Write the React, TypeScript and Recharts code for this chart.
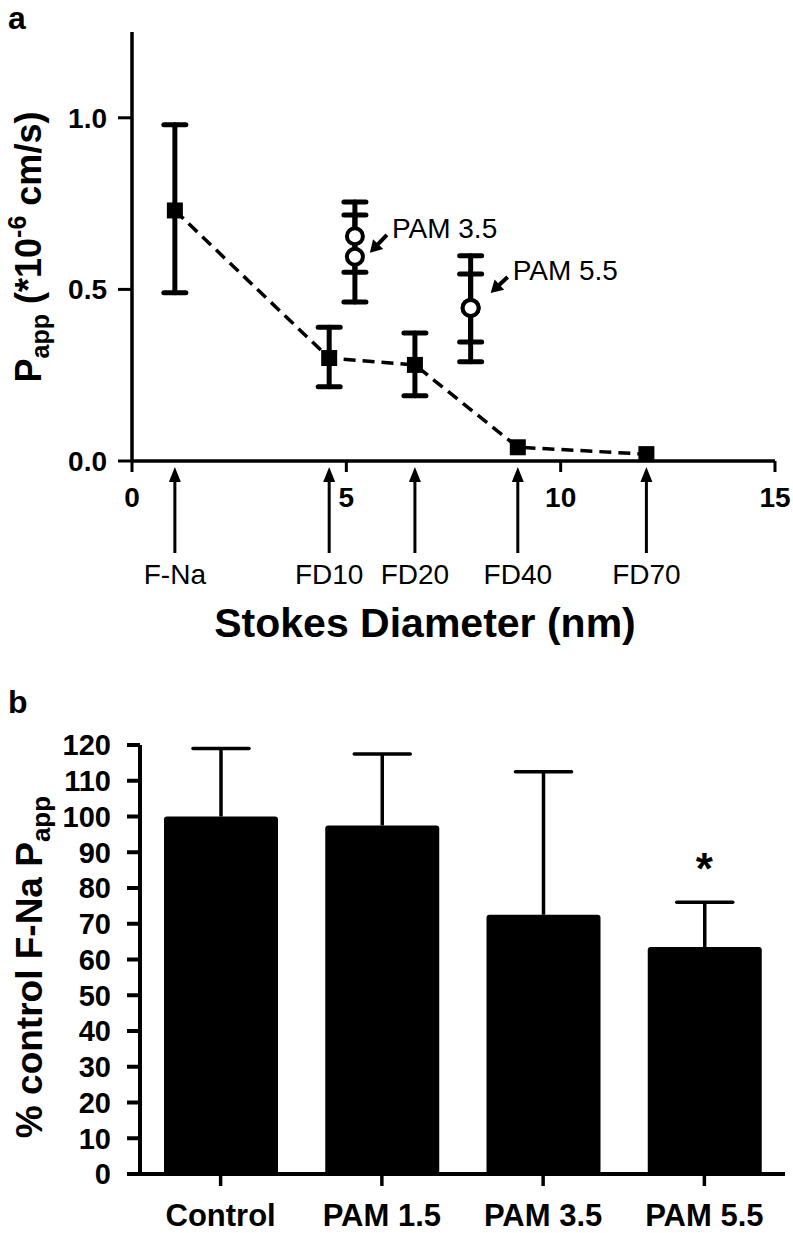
import React from "react";
import {
  ComposedChart,
  Scatter,
  XAxis,
  YAxis,
  ErrorBar,
  ReferenceDot,
  BarChart,
  Bar,
  Label,
} from "recharts";

const FONT = '"Liberation Sans", Arial, Helvetica, sans-serif';

// ---- panel a: Papp vs Stokes diameter ----
const dextranNames = ["F-Na", "FD10", "FD20", "FD40", "FD70"];
const dextranSize = [1.0, 4.6, 6.6, 9.0, 12.0];
const dextranPapp = [0.73, 0.3, 0.28, 0.04, 0.02];
const dextranLow = [0.49, 0.216, 0.19, null, null];
const dextranHigh = [0.98, 0.39, 0.373, null, null];

const pamNames = ["PAM 3.5", "PAM 5.5"];
const pamSize = [5.2, 7.9];
const pamPappA = [0.655, 0.446];
const pamLowA = [0.55, 0.347];
const pamHighA = [0.755, 0.545];
const pamPappB = [0.595, 0.446];
const pamLowB = [0.463, 0.289];
const pamHighB = [0.717, 0.598];

const stokesTicks = [0, 5, 10, 15];
const pappTicks = [0, 0.5, 1.0];

// ---- panel b: % of control ----
const groups = ["Control", "PAM 1.5", "PAM 3.5", "PAM 5.5"];
const pctMean = [100, 97.5, 72.5, 63.5];
const pctUpper = [119, 117.5, 112.5, 76];
const sigMark = ["", "", "", "*"];
const sigLevel = [null, null, null, 88];
const pctTicks = [0, 10, 20, 30, 40, 50, 60, 70, 80, 90, 100, 110, 120];

const dextranData = dextranSize.map((x, i) => ({
  x,
  y: dextranPapp[i],
  lo: dextranLow[i],
  hi: dextranHigh[i],
}));
const pamDataA = pamSize.map((x, i) => ({ x, y: pamPappA[i], lo: pamLowA[i], hi: pamHighA[i] }));
const pamDataB = pamSize.map((x, i) => ({ x, y: pamPappB[i], lo: pamLowB[i], hi: pamHighB[i] }));
const barData = groups.map((name, i) => ({ name, v: pctMean[i], up: pctUpper[i] }));

// scatter points hand the raw row over as .payload
const errKey = (p: any) => {
  const d = p && p.payload ? p.payload : p;
  return d.lo == null ? null : [d.y - d.lo, d.hi - d.y];
};

// offsets of the PAM callouts (pixels), per annotation
const calloutStyle = [
  { tail: [32, -22], tip: [15, -4], text: [37, -19] },
  { tail: [37, -31], tip: [20, -15], text: [42, -28] },
];

const Square = (p: any) => <rect x={p.cx - 8} y={p.cy - 8} width={16} height={16} fill="#000" />;
const Ring = (p: any) => (
  <circle cx={p.cx} cy={p.cy} r={8} fill="#fff" stroke="#000" strokeWidth={4} />
);

const arrowHead = (x1: number, y1: number, x2: number, y2: number, len: number, half: number) => {
  const dx = x2 - x1;
  const dy = y2 - y1;
  const l = Math.sqrt(dx * dx + dy * dy);
  const ux = dx / l;
  const uy = dy / l;
  const bx = x2 - ux * len;
  const by = y2 - uy * len;
  return `${x2},${y2} ${bx - uy * half},${by + ux * half} ${bx + uy * half},${by - ux * half}`;
};

const makeCallout = (i: number) => (p: any) => {
  const s = calloutStyle[i];
  const tx = p.cx + s.tail[0];
  const ty = p.cy + s.tail[1];
  const hx = p.cx + s.tip[0];
  const hy = p.cy + s.tip[1];
  const dx = hx - tx;
  const dy = hy - ty;
  const l = Math.sqrt(dx * dx + dy * dy);
  return (
    <g>
      <line
        x1={tx}
        y1={ty}
        x2={hx - (dx / l) * 8}
        y2={hy - (dy / l) * 8}
        stroke="#000"
        strokeWidth={4}
      />
      <polygon points={arrowHead(tx, ty, hx, hy, 12, 7)} fill="#000" />
      <text x={p.cx + s.text[0]} y={p.cy + s.text[1]} fontSize={28} fontFamily={FONT} fill="#000">
        {pamNames[i]}
      </text>
    </g>
  );
};

const StokesTick = (props: any) => {
  const { x, y, payload } = props;
  const v = payload.value;
  const idx = dextranSize.indexOf(v);
  if (idx < 0) {
    return (
      <g>
        <line x1={x} x2={x} y1={y} y2={y + 11} stroke="#000" strokeWidth={3} />
        <text x={x} y={y + 46} textAnchor="middle" fontSize={28} fontWeight="bold" fontFamily={FONT} fill="#000">
          {v}
        </text>
      </g>
    );
  }
  return (
    <g>
      <line x1={x} x2={x} y1={y + 16} y2={y + 92} stroke="#000" strokeWidth={3} />
      <polygon points={`${x},${y + 6} ${x - 6},${y + 21} ${x + 6},${y + 21}`} fill="#000" />
      <text x={x} y={y + 123} textAnchor="middle" fontSize={28} fontFamily={FONT} fill="#000">
        {dextranNames[idx]}
      </text>
    </g>
  );
};

const StokesTitle = () => (
  <text x={425} y={637} textAnchor="middle" fontSize={41} fontWeight="bold" fontFamily={FONT} fill="#000">
    Stokes Diameter (nm)
  </text>
);

const PappTitle = () => (
  <text
    x={41}
    y={247}
    transform="rotate(-90 41 247)"
    textAnchor="middle"
    fontSize={36}
    fontWeight="bold"
    fontFamily={FONT}
    fill="#000"
  >
    P
    <tspan fontSize={25} dy={8}>
      app
    </tspan>
    <tspan dy={-8}> (*10</tspan>
    <tspan fontSize={25} dy={-15}>
      -6
    </tspan>
    <tspan dy={15}> cm/s)</tspan>
  </text>
);

const PctTitle = () => (
  <text
    x={42}
    y={287}
    transform="rotate(-90 42 287)"
    textAnchor="middle"
    fontSize={37}
    fontWeight="bold"
    fontFamily={FONT}
    fill="#000"
  >
    % control F-Na P
    <tspan fontSize={26} dy={8}>
      app
    </tspan>
  </text>
);

// bar with its upper whisker, scaled from the bar's own pixel height
const BarWithWhisker = (p: any) => {
  const { x, y, width, height, payload } = p;
  const perUnit = height / payload.v;
  const top = y - (payload.up - payload.v) * perUnit;
  const cx = x + width / 2;
  return (
    <g>
      <rect x={x} y={y} width={width} height={height} rx={3} ry={3} fill="#000" />
      <line x1={cx} x2={cx} y1={y} y2={top} stroke="#000" strokeWidth={3.5} />
      <line x1={cx - 28} x2={cx + 28} y1={top} y2={top} stroke="#000" strokeWidth={3.5} strokeLinecap="round" />
    </g>
  );
};

const Star = (i: number) => (p: any) => (
  <text x={p.cx} y={p.cy + 25} textAnchor="middle" fontSize={44} fontWeight="bold" fontFamily={FONT} fill="#000">
    {sigMark[i]}
  </text>
);

const panelLabel: React.CSSProperties = {
  position: "absolute",
  left: 8,
  fontFamily: FONT,
  fontWeight: "bold",
  fontSize: 32,
  lineHeight: "normal",
  color: "#000",
};

export default function App() {
  return (
    <div style={{ position: "absolute", left: 0, top: 0, width: 793, height: 1233, background: "#fff" }}>
      <div style={{ ...panelLabel, top: 0 }}>a</div>
      <div style={{ ...panelLabel, top: 684 }}>b</div>

      <div style={{ position: "absolute", left: 0, top: 0 }}>
        <ComposedChart width={793} height={680} margin={{ top: 32, right: 18, left: 0, bottom: 0 }}>
          <XAxis
            type="number"
            dataKey="x"
            domain={[0, 15]}
            ticks={[...stokesTicks, ...dextranSize].sort((a, b) => a - b)}
            interval={0}
            height={219}
            tickSize={0}
            tickMargin={0}
            tickLine={false}
            axisLine={{ stroke: "#000", strokeWidth: 3.5 }}
            tick={<StokesTick />}
          >
            <Label content={<StokesTitle />} />
          </XAxis>
          <YAxis
            type="number"
            dataKey="y"
            domain={[0, 1.25]}
            ticks={pappTicks}
            width={132}
            tickSize={14}
            tickMargin={11}
            tickFormatter={(v: number) => v.toFixed(1)}
            tickLine={{ stroke: "#000", strokeWidth: 3 }}
            axisLine={{ stroke: "#000", strokeWidth: 3.5 }}
            tick={{ fill: "#000", fontSize: 28, fontWeight: "bold", fontFamily: FONT }}
          >
            <Label content={<PappTitle />} />
          </YAxis>
          <Scatter
            data={dextranData}
            shape={Square}
            line={{ stroke: "#000", strokeWidth: 3.5, strokeDasharray: "12 7" }}
            lineType="joint"
            isAnimationActive={false}
          >
            <ErrorBar
              dataKey={errKey}
              direction="y"
              width={11}
              stroke="#000"
              strokeWidth={5}
              strokeLinecap="round"
              isAnimationActive={false}
            />
          </Scatter>
          <Scatter data={pamDataA} shape={Ring} isAnimationActive={false}>
            <ErrorBar
              dataKey={errKey}
              direction="y"
              width={11}
              stroke="#000"
              strokeWidth={5}
              strokeLinecap="round"
              isAnimationActive={false}
            />
          </Scatter>
          <Scatter data={pamDataB} shape={Ring} isAnimationActive={false}>
            <ErrorBar
              dataKey={errKey}
              direction="y"
              width={11}
              stroke="#000"
              strokeWidth={5}
              strokeLinecap="round"
              isAnimationActive={false}
            />
          </Scatter>
          {pamSize.map((x, i) => (
            <ReferenceDot key={pamNames[i]} x={x} y={pamPappB[i]} r={0} shape={makeCallout(i)} />
          ))}
        </ComposedChart>
      </div>

      <div style={{ position: "absolute", left: 0, top: 680 }}>
        <BarChart width={793} height={553} data={barData} margin={{ top: 65, right: 8, left: 0, bottom: 0 }}>
          <XAxis
            dataKey="name"
            height={59}
            tickSize={12}
            tickMargin={18}
            interval={0}
            tickLine={{ stroke: "#000", strokeWidth: 3.5 }}
            axisLine={{ stroke: "#000", strokeWidth: 4 }}
            tick={{ fill: "#000", fontSize: 31, fontWeight: "bold", fontFamily: FONT }}
          />
          <YAxis
            domain={[0, 120]}
            ticks={pctTicks}
            interval={0}
            width={140}
            tickSize={13}
            tickMargin={16}
            tickLine={{ stroke: "#000", strokeWidth: 4 }}
            axisLine={{ stroke: "#000", strokeWidth: 4 }}
            tick={{ fill: "#000", fontSize: 29, fontWeight: "bold", fontFamily: FONT }}
          >
            <Label content={<PctTitle />} />
          </YAxis>
          <Bar dataKey="v" fill="#000" barSize={114} shape={BarWithWhisker} isAnimationActive={false} />
          {groups.map((g, i) =>
            sigLevel[i] == null ? null : (
              <ReferenceDot key={g} x={g} y={sigLevel[i] as number} r={0} shape={Star(i)} />
            )
          )}
        </BarChart>
      </div>
    </div>
  );
}
